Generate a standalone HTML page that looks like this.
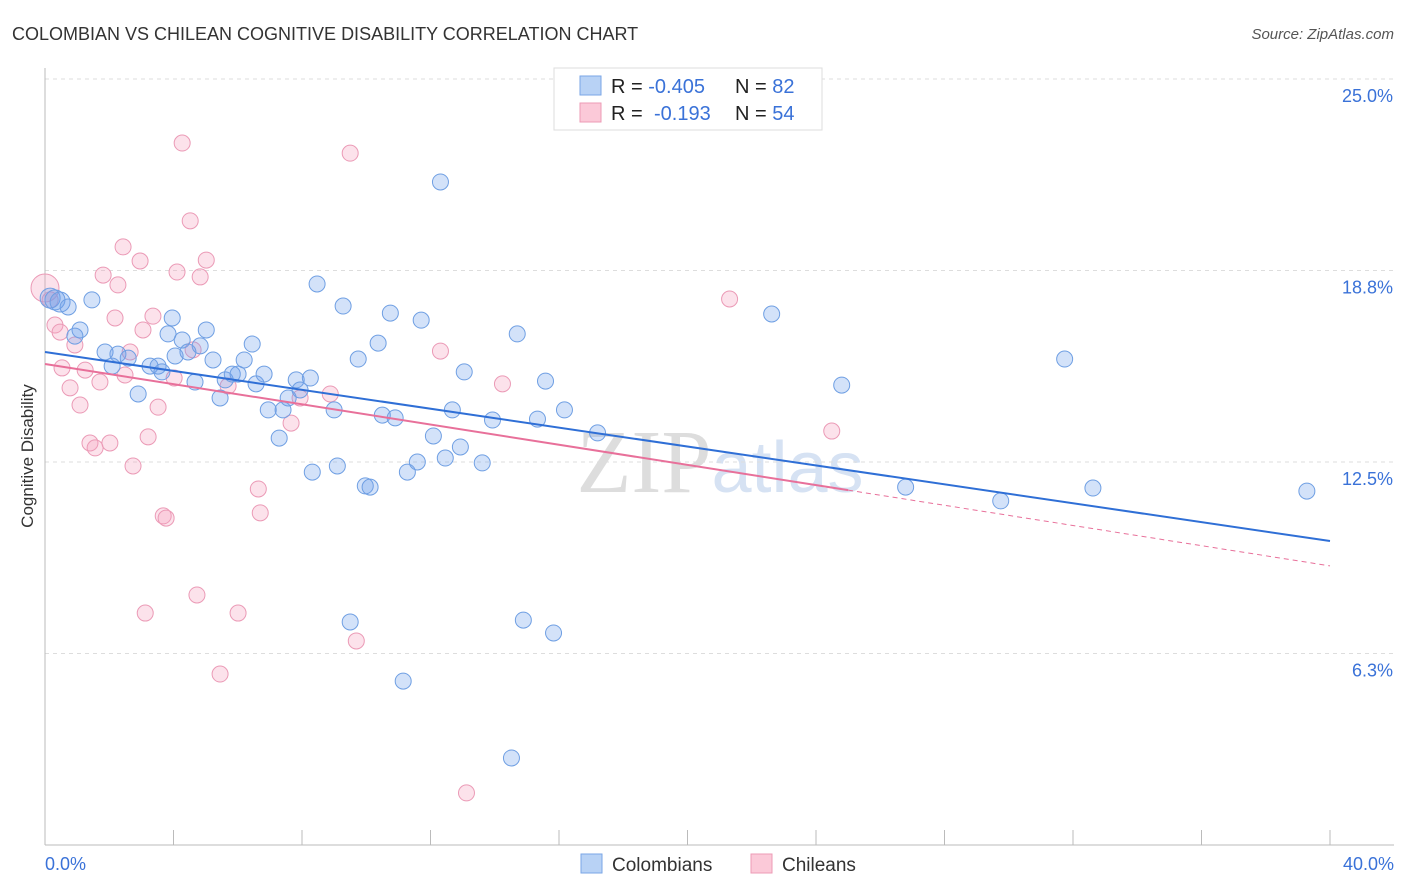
<!DOCTYPE html>
<html><head><meta charset="utf-8"><style>
body{margin:0;background:#fff;font-family:"Liberation Sans",sans-serif;}
#wrap{position:relative;width:1406px;height:892px;overflow:hidden;}
</style></head><body>
<div id="wrap">
<svg id="svg" width="1406" height="892" xmlns="http://www.w3.org/2000/svg">
<text x="12" y="40" font-size="18" fill="#333">COLOMBIAN VS CHILEAN COGNITIVE DISABILITY CORRELATION CHART</text>
<text x="1394" y="39" font-size="15" fill="#555" text-anchor="end" font-style="italic">Source: ZipAtlas.com</text>
<text x="720" y="492" font-size="90" fill="#ddd" text-anchor="middle" font-family="Liberation Serif,serif">ZIP<tspan fill="#d6e2f3" font-family="Liberation Sans,sans-serif" font-size="72">atlas</tspan></text>
<g id="grid"></g><g id="axes"></g><g id="marks"></g>
<text x="33" y="456" font-size="17" fill="#333" text-anchor="middle" transform="rotate(-90 33 456)">Cognitive Disability</text>
<text x="45" y="870" font-size="18" fill="#3a72d8">0.0%</text>
<text x="1394" y="870" font-size="18" fill="#3a72d8" text-anchor="end">40.0%</text>
<g>
<rect x="554" y="68" width="268" height="62" fill="#fff" stroke="#ddd"/>
<rect x="580" y="76" width="21" height="19" fill="#b8d2f5" stroke="#7aa6e6"/>
<rect x="580" y="103" width="21" height="19" fill="#fbc9d8" stroke="#ec9bb6"/>
<text x="611" y="93" font-size="20" fill="#222">R = <tspan fill="#3a72d8">-0.405</tspan></text>
<text x="735" y="93" font-size="20" fill="#222">N = <tspan fill="#3a72d8">82</tspan></text>
<text x="611" y="120" font-size="20" fill="#222">R =  <tspan fill="#3a72d8" x="654">-0.193</tspan></text>
<text x="735" y="120" font-size="20" fill="#222">N = <tspan fill="#3a72d8">54</tspan></text>
</g>
<g>
<rect x="581" y="854" width="21" height="19" fill="#b8d2f5" stroke="#7aa6e6"/>
<text x="612" y="871" font-size="19" fill="#333">Colombians</text>
<rect x="751" y="854" width="21" height="19" fill="#fbc9d8" stroke="#ec9bb6"/>
<text x="782" y="871" font-size="19" fill="#333">Chileans</text>
</g>
</svg></div>
<script>
const yTicks=[6.25,12.5,18.75,25];
const yTickLabels=["6.3%","12.5%","18.8%","25.0%"];
const blueX=[0.16,0.31,0.47,0.72,1.46,1.09,0.93,1.87,2.27,2.59,2.09,2.90,3.27,3.52,3.64,3.96,3.83,4.05,4.27,4.45,4.67,4.83,5.02,5.23,5.45,5.61,5.83,6.01,6.20,6.45,6.57,6.82,6.95,7.29,7.41,7.57,7.82,7.94,8.26,8.32,8.47,9.00,9.10,9.28,9.75,9.97,10.12,10.37,10.50,10.75,10.90,11.28,11.59,11.71,12.09,12.46,12.68,12.93,13.05,12.31,13.61,13.93,14.70,15.33,15.58,16.17,17.20,9.50,11.15,14.52,14.89,15.83,22.62,24.80,26.79,29.75,31.74,32.62,39.28];
const blueY=[17.85,17.79,17.72,17.56,17.79,16.81,16.61,16.09,16.02,15.89,15.63,14.72,15.63,15.63,15.44,17.20,16.68,15.96,16.48,16.09,15.11,16.29,16.81,15.83,14.59,15.18,15.37,15.37,15.83,16.35,15.05,15.37,14.20,13.28,14.20,14.59,15.18,14.85,15.24,12.17,18.31,14.20,12.37,17.59,15.86,11.72,11.68,16.38,14.03,17.36,13.94,12.17,12.50,17.13,13.35,12.63,14.20,12.99,15.44,21.64,12.47,13.87,16.68,13.90,15.14,14.20,13.45,7.28,5.35,2.84,7.34,6.92,17.33,15.01,11.68,11.23,15.86,11.65,11.55];
const pinkX=[0,0.16,0.31,0.47,0.53,0.78,1.09,0.93,1.25,1.40,1.56,1.71,1.81,2.02,2.18,2.27,2.49,2.65,2.74,2.43,2.96,3.05,3.21,3.36,3.52,3.68,3.77,4.02,4.11,4.27,4.52,4.73,4.83,5.02,4.61,5.45,5.70,6.01,3.12,6.64,6.70,7.66,7.94,8.88,9.50,9.69,12.31,13.12,14.24,21.31,24.49];
const pinkY=[18.18,17.79,16.97,16.74,15.57,14.92,14.36,16.32,15.50,13.12,12.96,15.11,18.60,13.12,17.20,18.28,15.34,16.09,12.37,19.52,19.06,16.81,13.32,17.26,14.29,10.74,10.67,15.24,18.70,22.91,20.37,8.16,18.54,19.09,16.16,5.58,14.98,7.57,7.57,11.62,10.84,13.77,14.59,14.72,22.58,6.66,16.12,1.70,15.05,17.82,13.51];
const blueTrend=[16.09,9.92];
const pinkTrend=[15.70,9.11];
const pinkSolidEnd=25.0;
const xs=v=>45+v*1285/40;
const ys=v=>845-v*30.64;
const NS="http://www.w3.org/2000/svg";
function mk(tag,attrs,parent){const e=document.createElementNS(NS,tag);for(const k in attrs)e.setAttribute(k,attrs[k]);document.getElementById(parent).appendChild(e);return e;}
yTicks.forEach((t,i)=>{
  const l=mk('line',{x1:45,x2:1394,y1:ys(t),y2:ys(t),stroke:'#ddd','stroke-dasharray':'4,4'},'grid');
  
  
  const tx=mk('text',{x:1393,y:ys(t)+23,'font-size':18,fill:'#3a72d8','text-anchor':'end'},'grid');
  tx.textContent=yTickLabels[i];
  
  
});
const ax=mk('line',{x1:45,x2:1394,y1:845,y2:845,stroke:'#bbb'},'axes');


const ay=mk('line',{x1:45,x2:45,y1:68,y2:845,stroke:'#bbb'},'axes');


for(let i=0;i<=10;i++){
  const t=mk('line',{x1:xs(i*4),x2:xs(i*4),y1:830,y2:845,stroke:'#bbb'},'axes');
  
  
}
pinkX.forEach((x,i)=>{
  const c=mk('circle',{cx:xs(x),cy:ys(pinkY[i]),r:i===0?14:8,fill:'rgba(244,160,190,0.3)',stroke:'#eb9ab6','stroke-width':1},'marks');
  
  
});
blueX.forEach((x,i)=>{
  const c=mk('circle',{cx:xs(x),cy:ys(blueY[i]),r:i<3?10:8,fill:'rgba(110,160,235,0.3)',stroke:'#6f9fe3','stroke-width':1},'marks');
  
  
});
const bt=mk('line',{x1:xs(0),y1:ys(blueTrend[0]),x2:xs(40),y2:ys(blueTrend[1]),stroke:'#2f6fd6','stroke-width':2},'marks');


const pAt=x=>pinkTrend[0]+(pinkTrend[1]-pinkTrend[0])*x/40;
const ps=mk('line',{x1:xs(0),y1:ys(pinkTrend[0]),x2:xs(pinkSolidEnd),y2:ys(pAt(pinkSolidEnd)),stroke:'#e8709a','stroke-width':2},'marks');


const pd=mk('line',{x1:xs(pinkSolidEnd),y1:ys(pAt(pinkSolidEnd)),x2:xs(40),y2:ys(pinkTrend[1]),stroke:'#e8709a','stroke-width':1,'stroke-dasharray':'5,4'},'marks');


</script>
</body></html>
